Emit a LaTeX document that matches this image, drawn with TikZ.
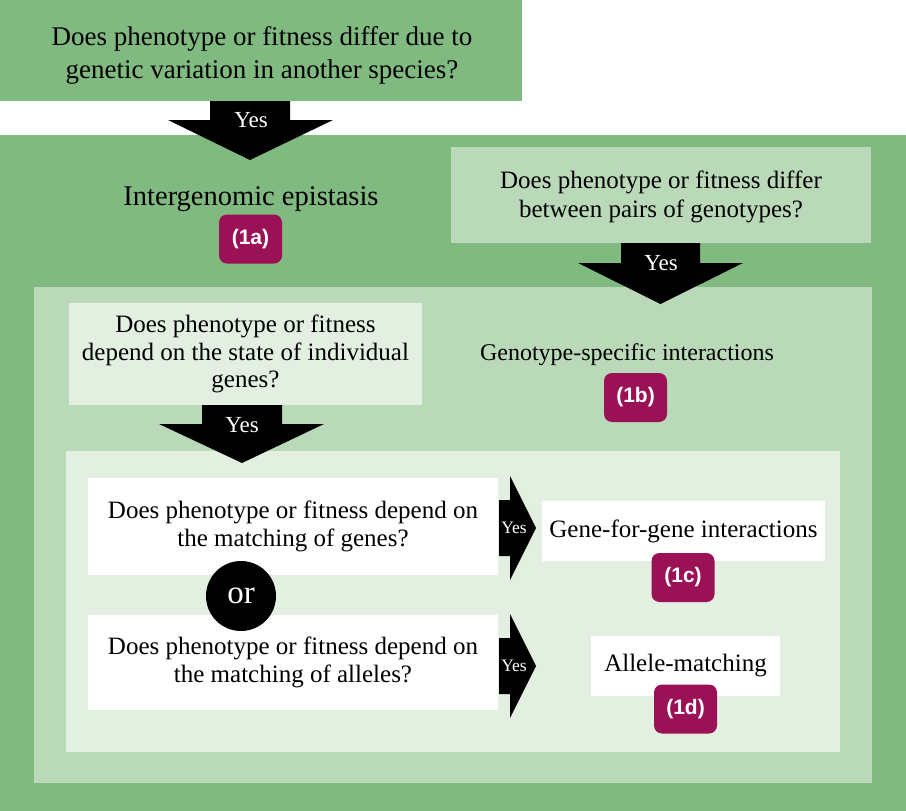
\documentclass[tikz,border=0pt]{standalone}
\usepackage{fontspec}
\setmainfont{Liberation Serif}
\newfontfamily\badgefont{Liberation Sans}
\definecolor{gMid}{RGB}{129,186,128}
\definecolor{gLight}{RGB}{185,217,184}
\definecolor{gPale}{RGB}{226,239,225}
\definecolor{badgeC}{RGB}{155,17,85}
\tikzset{
  qbox/.style={inner sep=0pt, align=center, font=\fontsize{25}{27.5}\selectfont},
  badge/.style={fill=badgeC, rounded corners=8pt, inner sep=0pt, minimum width=63pt, minimum height=49pt, text=white, font=\badgefont\bfseries\fontsize{21}{21}\selectfont},
  yeslbl/.style={text=white, inner sep=0pt, font=\fontsize{23}{23}\selectfont},
  yessmall/.style={text=white, inner sep=0pt, font=\fontsize{17.5}{17.5}\selectfont},
  blockarrow/.style={fill=black}
}
\begin{document}
\begin{tikzpicture}[x=1pt,y=-1pt]
\useasboundingbox (0,0) rectangle (906,811);
% regions
\fill[gMid] (0,135) rectangle (906,811);
\fill[gLight] (34,287) rectangle (872,783);
\fill[gPale] (66,451) rectangle (840,752);

% top question
\node[fill=gMid, inner sep=0pt, minimum width=522pt, minimum height=101pt] (q1) at (261,50.5) {};
\node[qbox, font=\fontsize{27}{33}\selectfont] (q1t) at (262,55)
  {Does phenotype or fitness differ due to\\genetic variation in another species?};
% arrow 1
\fill[blockarrow] (210,101) -- (290,101) -- (290,120) -- (333,120) -- (250,160) -- (168,120) -- (210,120) -- cycle;
\node[yeslbl] (y1) at (251,120) {Yes};

\node[inner sep=0pt, font=\fontsize{28.5}{30}\selectfont] (epi) at (251,199) {Intergenomic epistasis};
\node[badge] (b1a) at (250.5,239) {(1a)};

% right question
\node[fill=gLight, inner sep=0pt, minimum width=420pt, minimum height=96pt] (q2) at (661,195) {};
\node[qbox, font=\fontsize{25}{28.5}\selectfont] (q2t) at (661,197)
  {Does phenotype or fitness differ\\between pairs of genotypes?};
% arrow 2
\fill[blockarrow] (621,243) -- (700,243) -- (700,263) -- (743,263) -- (660.5,304) -- (578,263) -- (621,263) -- cycle;
\node[yeslbl] (y2) at (661,263) {Yes};

% state of individual genes
\node[qbox, fill=gPale, minimum width=353pt, minimum height=102pt] (q3) at (245.5,354)
  {Does phenotype or fitness\\depend on the state of individual\\genes?};
% arrow 3
\fill[blockarrow] (202,405) -- (282,405) -- (282,424) -- (324,424) -- (242,463) -- (159,424) -- (202,424) -- cycle;
\node[yeslbl] (y3) at (242,425) {Yes};

\node[inner sep=0pt, font=\fontsize{24}{26}\selectfont] (gsi) at (627,355) {Genotype-specific interactions};
\node[badge] (b1b) at (635.5,397.5) {(1b)};

% white questions
\node[qbox, fill=white, minimum width=410pt, minimum height=97pt] (q4) at (293,526.5)
  {Does phenotype or fitness depend on\\the matching of genes?};
\node[qbox, fill=white, minimum width=410pt, minimum height=95pt] (q5) at (293,662.5)
  {Does phenotype or fitness depend on\\the matching of alleles?};
\node[circle, fill=black, minimum size=70pt, inner sep=0pt, text=white, font=\fontsize{33}{33}\selectfont] (or) at (241,596) {or};

% right arrows
\fill[blockarrow] (499,500) -- (510,500) -- (510,476) -- (536,528) -- (510,580) -- (510,556) -- (499,556) -- cycle;
\node[yessmall] (y4) at (514,528) {Yes};
\fill[blockarrow] (499,638) -- (510,638) -- (510,614) -- (536,666) -- (510,718) -- (510,694) -- (499,694) -- cycle;
\node[yessmall] (y5) at (514,666) {Yes};

% outcomes
\node[qbox, fill=white, minimum width=283pt, minimum height=60pt] (gfg) at (683.5,531) {Gene-for-gene interactions};
\node[badge] (b1c) at (683,577.5) {(1c)};
\node[qbox, fill=white, minimum width=189pt, minimum height=60pt] (am) at (685.5,666) {Allele-matching};
\node[badge] (b1d) at (685.5,709) {(1d)};
\end{tikzpicture}
\end{document}
